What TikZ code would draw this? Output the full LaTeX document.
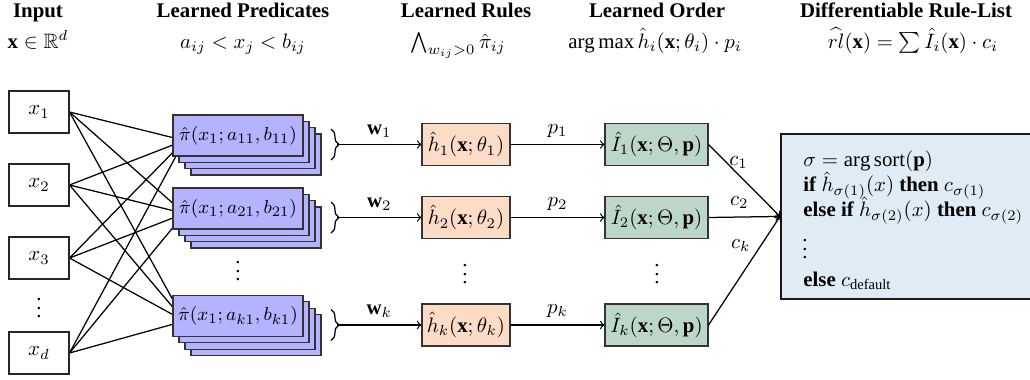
\documentclass[tikz,border=0pt]{standalone}
\usepackage{amsmath,amssymb}
\usepackage{fontspec}
\setmainfont{Liberation Serif}
\usetikzlibrary{decorations.pathreplacing,calc}
\pgfdeclarelayer{background}
\pgfsetlayers{background,main}
\definecolor{predfill}{RGB}{179,179,255}
\definecolor{rulefill}{RGB}{252,219,199}
\definecolor{ordfill}{RGB}{188,215,200}
\definecolor{listfill}{RGB}{223,236,246}
\def\pxu{0.48pt}
\begin{document}
\begin{tikzpicture}[x=0.48pt,y=-0.48pt,
  conn/.style={line width=0.6pt},
  arr/.style={conn,->},
  inbox/.style={draw=black!85,line width=0.5pt,fill=white,inner sep=0pt,
    minimum width=60*\pxu,minimum height=42*\pxu},
  predbox/.style={draw=black!80,line width=0.5pt,fill=predfill,inner sep=0pt,
    minimum width=130*\pxu,minimum height=41*\pxu,font=\fontsize{9.3}{11}\selectfont},
  rulebox/.style={draw=black!80,line width=0.5pt,fill=rulefill,inner sep=0pt,
    minimum width=88*\pxu,minimum height=42*\pxu},
  ordbox/.style={draw=black!80,line width=0.5pt,fill=ordfill,inner sep=0pt,
    minimum width=103*\pxu,minimum height=42*\pxu},
  listbox/.style={draw=black!90,line width=0.9pt,fill=listfill,inner sep=0pt,
    minimum width=270*\pxu,minimum height=165*\pxu,anchor=north west},
  hdr/.style={anchor=base,font=\bfseries},
  frm/.style={anchor=base},
  txt/.style={anchor=base west,inner sep=0pt},
  lbl/.style={inner sep=0pt},
  brc/.style={conn,decorate,decoration={brace,amplitude=3.8pt}}
]
\path[use as bounding box] (0,0) rectangle (1030,379);
\clip (0,0) rectangle (1030,379);

% headers
\node[hdr] (h-in) at (38,17) {Input};
\node[hdr] (h-pr) at (243,17) {Learned Predicates};
\node[hdr] (h-ru) at (466,17) {Learned Rules};
\node[hdr] (h-or) at (657,17) {Learned Order};
\node[hdr] (h-li) at (906,17) {Differentiable Rule-List};
\node[frm] (f-in) at (38,48) {$\mathbf{x}\in\mathbb{R}^d$};
\node[frm] (f-pr) at (243,48) {$a_{ij} < x_j < b_{ij}$};
\node[frm] (f-ru) at (458,48) {$\bigwedge_{w_{ij}>0}\hat{\pi}_{ij}$};
\node[frm] (f-or) at (655,48) {$\arg\max\hat{h}_i(\mathbf{x};\theta_i)\cdot p_i$};
\node[frm] (f-li) at (913,48) {$\widehat{rl}(\mathbf{x}) = \sum\hat{I}_i(\mathbf{x})\cdot c_i$};

% inputs
\node[inbox] (x1) at (39,112) {$x_1$};
\node[inbox] (x2) at (39,185) {$x_2$};
\node[inbox] (x3) at (39,258) {$x_3$};
\node[inbox] (xd) at (39,353) {$x_d$};
\node[lbl] (xv) at (39,302) {$\vdots$};

% predicate stacks
\foreach \n/\r/\t in {1/135.5/{11},2/208.5/{21},k/316/{k1}}{
  \node[predbox] (p\n c) at (256,\r+19) {};
  \node[predbox] (p\n b) at (250,\r+12.6) {};
  \node[predbox] (p\n a) at (244,\r+6.3) {};
  \node[predbox] (p\n) at (238,\r) {$\hat{\pi}(x_1;a_{\t},b_{\t})$};
}
\node[lbl] (pv) at (238,265) {$\vdots$};

% connections inputs -> predicates
\begin{pgfonlayer}{background}
\foreach \i in {x1,x2,x3,xd}{
  \foreach \p in {p1,p2,pk}{
    \draw[conn] (\i.east) -- ($(\p.west)+(12,5)$);
  }
}
\end{pgfonlayer}

% rules and order
\foreach \n/\r in {1/144.5,2/217.5,k/325}{
  \coordinate (bt\n) at (337,\r);
  \draw[brc] (331,\r-15.5) -- (331,\r+15.5);
  \node[rulebox] (h\n) at (466,\r) {$\hat{h}_{\n}(\mathbf{x};\theta_{\n})$};
  \node[ordbox] (I\n) at (656.5,\r) {$\hat{I}_{\n}(\mathbf{x};\Theta,\mathbf{p})$};
  \draw[arr] (bt\n) -- (h\n.west) node[lbl,midway,yshift=6.5pt] {$\mathbf{w}_{\n}$};
  \draw[arr] (h\n.east) -- (I\n.west) node[lbl,midway,yshift=6.7pt] {$p_{\n}$};
}
\node[lbl] (hv) at (465,268) {$\vdots$};
\node[lbl] (Iv) at (657,268) {$\vdots$};

% rule list
\node[listbox] (rl) at (780,133) {};
\draw[arr] (I1.east) -- (rl.west) node[lbl,pos=0.45,yshift=7pt,xshift=-1pt] {$c_1$};
\draw[arr] (I2.east) -- (rl.west) node[lbl,pos=0.43,yshift=7pt] {$c_2$};
\draw[arr] (Ik.east) -- (rl.west) node[lbl,pos=0.73,xshift=-9.6pt] {$c_k$};

\node[txt] (l1) at (803,166) {$\sigma = \arg\operatorname{sort}(\mathbf{p})$};
\node[txt] (l2) at (803,191.5) {\textbf{if} $\hat{h}_{\sigma(1)}(x)$ \textbf{then} $c_{\sigma(1)}$};
\node[txt] (l3) at (803,216.5) {\textbf{else if} $\hat{h}_{\sigma(2)}(x)$ \textbf{then} $c_{\sigma(2)}$};
\node[lbl] (l4) at (805,243) {$\vdots$};
\node[txt] (l5) at (803,286.5) {\textbf{else} $c_{\text{default}}$};
\end{tikzpicture}
\end{document}
